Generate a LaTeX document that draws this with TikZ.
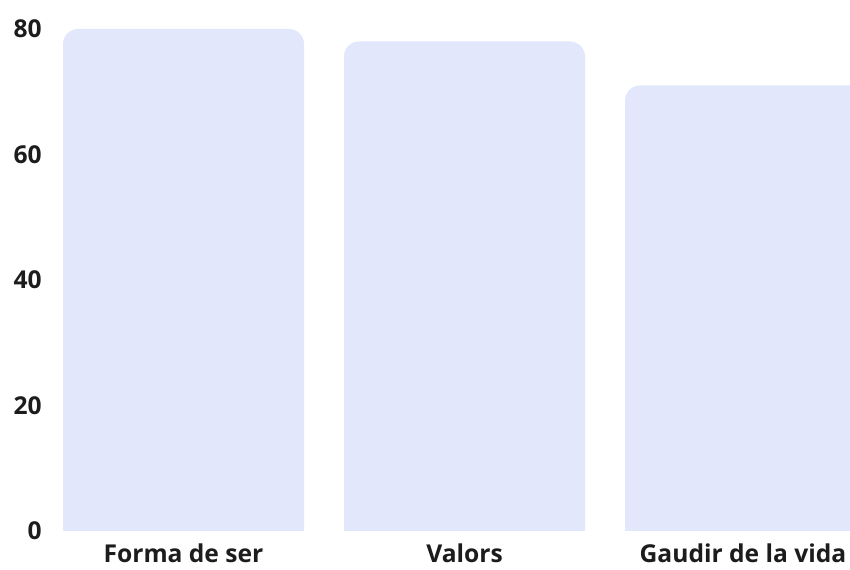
\documentclass[tikz,border=0pt]{standalone}
\usepackage{fontspec}
\setmainfont{Open Sans}
\usepackage{xcolor}
\usepackage{tikz}
\usetikzlibrary{positioning}

\definecolor{barfill}{HTML}{E2E7FC}
\definecolor{labeltext}{HTML}{1C1C1C}

\tikzset{
  bar/.style={fill=barfill, rounded corners=0.45cm},
  ytick/.style={anchor=east, font=\fontsize{21}{25}\selectfont\bfseries, text=labeltext, inner sep=0pt},
  xtick/.style={anchor=base, font=\fontsize{21}{25}\selectfont\bfseries, text=labeltext, inner sep=0pt}
}

\begin{document}
\begin{tikzpicture}[x=0.03cm, y=0.03cm]
  \useasboundingbox (0,0) rectangle (850,570);

  % bars, flat at the base
  \begin{scope}
    \clip (0,39) rectangle (850,570);
    \fill[bar] (63,10) rectangle (304,541);
    \fill[bar] (344,10) rectangle (585,528.5);
    \fill[bar] (625,10) rectangle (866,484.5);
  \end{scope}

  % value axis
  \node[ytick] (v0) at (42,39) {0};
  \node[ytick] (v20) at (42,164.5) {20};
  \node[ytick] (v40) at (42,290) {40};
  \node[ytick] (v60) at (42,415.5) {60};
  \node[ytick] (v80) at (42,541) {80};

  % categories
  \node[xtick] (forma) at (183.5,7.5) {Forma de ser};
  \node[xtick] (valors) at (464.5,7.5) {Valors};
  \node[xtick] (gaudir) at (743,7.5) {Gaudir de la vida};
\end{tikzpicture}
\end{document}
